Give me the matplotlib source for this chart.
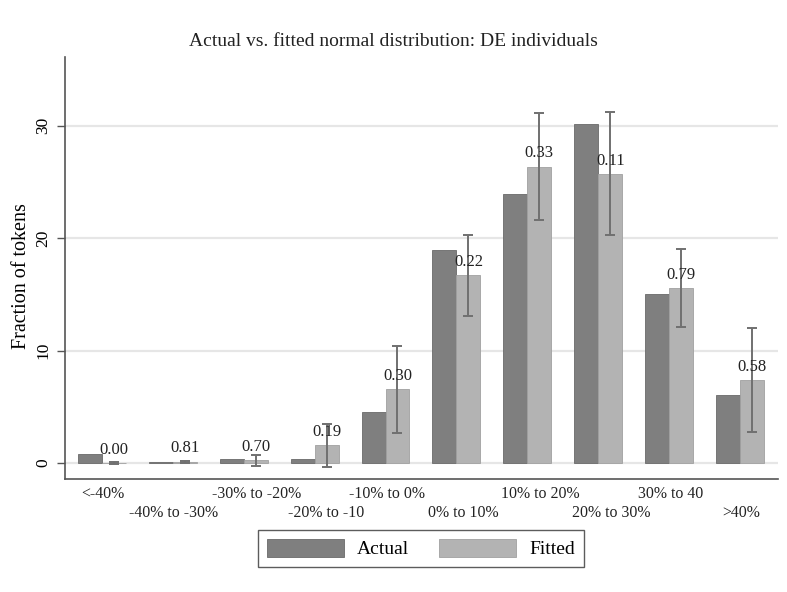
import numpy as np
import matplotlib
matplotlib.use('Agg')
import matplotlib.pyplot as plt
import matplotlib.transforms as mtrans

plt.rcParams['font.family'] = ['Liberation Serif', 'DejaVu Serif']

categories = ['<-40%', '-40% to -30%', '-30% to -20%', '-20% to -10', '-10% to 0%',
              '0% to 10%', '10% to 20%', '20% to 30%', '30% to 40', '>40%']
actual = [0.77, 0.05, 0.35, 0.35, 4.5, 18.9, 23.9, 30.15, 15.05, 6.05]
fitted = [0.0, 0.12, 0.27, 1.6, 6.55, 16.7, 26.35, 25.7, 15.55, 7.36]
err_hi = [0.05, 0.2, 0.75, 3.5, 10.4, 20.3, 31.1, 31.2, 19.05, 12.0]
err_lo = [-0.05, 0.04, -0.25, -0.33, 2.65, 13.1, 21.6, 20.25, 12.05, 2.73]
pvals = ['0.00', '0.81', '0.70', '0.19', '0.30', '0.22', '0.33', '0.11', '0.79', '0.58']

# small horizontal nudges of the category labels (px), as in the original layout
lab_shift = [1, 1, 13, 12, 1, 7, 13, 13, 1, 1]

c_act = '#7f7f7f'
c_fit = '#b3b3b3'
c_err = '#707070'

fig = plt.figure(figsize=(7.87, 5.92), dpi=100)
ax = fig.add_axes([65/787, 1-479/592, (778-65)/787, (479-57)/592])

x = np.arange(len(categories))
w = 0.338
ax.bar(x - w/2, actual, w, color=c_act, edgecolor='#6a6a6a', linewidth=0.6, zorder=2, label='Actual')
ax.bar(x + w/2, fitted, w, color=c_fit, edgecolor='#a0a0a0', linewidth=0.6, zorder=2, label='Fitted')

fitted = np.array(fitted)
yerr = [fitted - np.array(err_lo), np.array(err_hi) - fitted]
ax.errorbar(x + w/2, fitted, yerr=yerr, fmt='none', ecolor=c_err, elinewidth=1.4,
            capsize=3.5, capthick=1.4, zorder=3)

for xi, fv, p in zip(x, fitted, pvals):
    ax.annotate(p, (xi + w/2, fv), xytext=(0, 9.5), textcoords='offset points',
                ha='center', va='center', fontsize=12, color='#222222', zorder=4)

ax.set_xlim(-0.52, 9.535)
ax.set_ylim(-1.42, 36.1)
ax.set_yticks([0, 10, 20, 30])
ax.set_yticklabels(['0', '10', '20', '30'], rotation=90, va='center', fontsize=12.5)
ax.tick_params(axis='y', length=5.8, width=1, color='#555555', pad=4)
ax.set_xticks([])
ax.grid(axis='y', color='#e6e6e6', linewidth=1.6, zorder=0)
ax.set_axisbelow(True)

for s in ['top', 'right']:
    ax.spines[s].set_visible(False)
for s in ['left', 'bottom']:
    ax.spines[s].set_color('#555555')
    ax.spines[s].set_linewidth(1.2)

ax.set_ylabel('Fraction of tokens', fontsize=14.5)
ax.yaxis.set_label_coords(-0.047, 0.48)

trans = mtrans.blended_transform_factory(ax.transData, ax.transAxes)
for i, lab in enumerate(categories):
    off = mtrans.offset_copy(trans, fig=fig, x=lab_shift[i], y=0, units='dots')
    yy = -0.035 if i % 2 == 0 else -0.081
    ax.text(i, yy, lab, transform=off, ha='center', va='center', fontsize=11.4, color='#222222')

fig.text(0.5, 1 - 41/592, 'Actual vs. fitted normal distribution: DE individuals',
         ha='center', va='center', fontsize=14, color='#222222')

leg = fig.legend(loc='center', bbox_to_anchor=(421/787, 1 - 548.5/592), ncol=2,
                 fontsize=14, handlelength=3.97, handleheight=1.03, handletextpad=0.67,
                 columnspacing=1.55, fancybox=False, edgecolor='#333333', borderpad=0.45)
leg.get_frame().set_linewidth(1.0)

fig.savefig('out.png', dpi=100)
